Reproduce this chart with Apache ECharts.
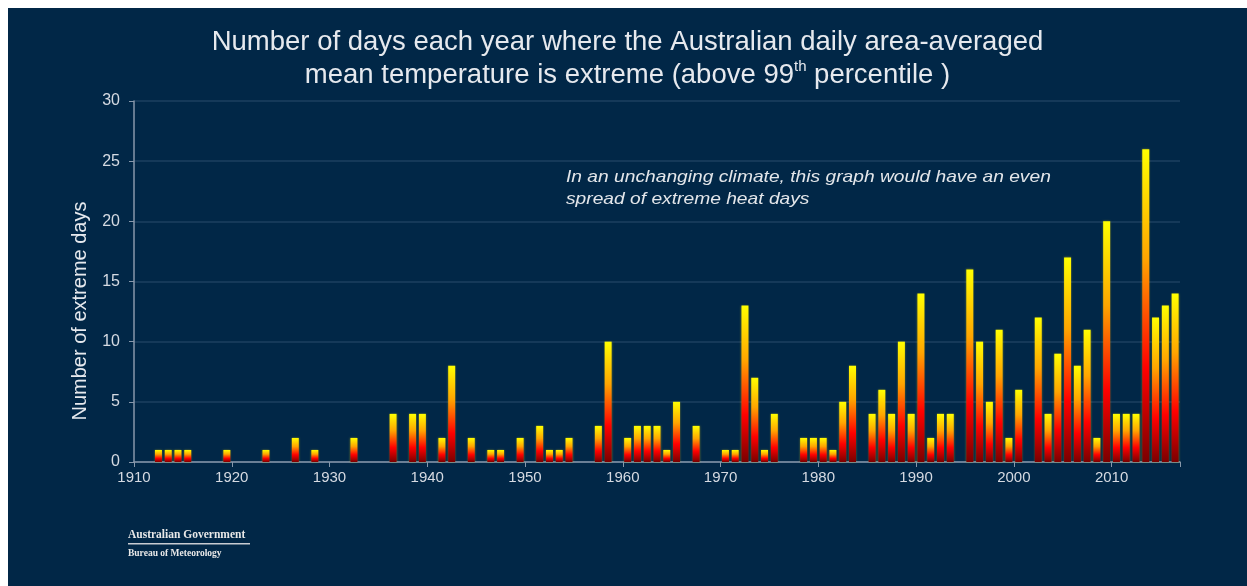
<!DOCTYPE html>
<html>
<head>
<meta charset="utf-8">
<script src="https://cdn.jsdelivr.net/npm/echarts@6/dist/echarts.min.js"></script>
<style>
html,body{margin:0;padding:0;background:#fff;width:1247px;height:586px;overflow:hidden;}
#chart{position:absolute;left:8px;top:8px;width:1239px;height:578px;background:#012747;}
</style>
</head>
<body>
<div id="chart"></div>
<script>
const years = [];
for (let y = 1910; y <= 2016; y++) years.push(String(y));
const extremeDays = [
  0,0,1,1,1,1,0,0,0,1,   // 1910-1919
  0,0,0,1,0,0,2,0,1,0,   // 1920-1929
  0,0,2,0,0,0,4,0,4,4,   // 1930-1939
  0,2,8,0,2,0,1,1,0,2,   // 1940-1949
  0,3,1,1,2,0,0,3,10,0,  // 1950-1959
  2,3,3,3,1,5,0,3,0,0,   // 1960-1969
  1,1,13,7,1,4,0,0,2,2,  // 1970-1979
  2,1,5,8,0,4,6,4,10,4,  // 1980-1989
  14,2,4,4,0,16,10,5,11,2, // 1990-1999
  6,0,12,4,9,17,8,11,2,20, // 2000-2009
  4,4,4,26,12,13,14        // 2010-2016
];
const yTicks = [0,5,10,15,20,25,30];
const titleLine1 = 'Number of days each year where the Australian daily area-averaged';
const titleLine2a = 'mean temperature is extreme (above 99';
const titleLine2b = 'th';
const titleLine2c = ' percentile )';
const yName = 'Number of extreme days';
const note = ['In an unchanging climate, this graph would have an even', 'spread of extreme heat days'];

const chart = echarts.init(document.getElementById('chart'));
const grad = new echarts.graphic.LinearGradient(0, 0, 0, 1, [
  {offset: 0, color: '#ffff00'},
  {offset: 0.35, color: '#ffa500'},
  {offset: 0.7, color: '#ff0000'},
  {offset: 1, color: '#7a0000'}
]);
chart.setOption({
  backgroundColor: '#012747',
  animation: false,
  title: {
    text: titleLine1 + '\n{a|' + titleLine2a + '}{s|' + titleLine2b + '}{a|' + titleLine2c + '}',
    left: 'center',
    top: 13,
    textStyle: {
      color: '#e6e9ee', fontSize: 27.5, fontWeight: 'normal', fontFamily: 'Liberation Sans', lineHeight: 33,
      rich: {
        a: {color: '#e6e9ee', fontSize: 27.5, fontFamily: 'Liberation Sans', lineHeight: 33},
        s: {color: '#e6e9ee', fontSize: 15, fontFamily: 'Liberation Sans', verticalAlign: 'top', lineHeight: 33, padding: [0,0,12,0]}
      }
    }
  },
  grid: {left: 126, right: 67, top: 93, bottom: 124, containLabel: false},
  xAxis: [
    {
      type: 'category', data: years, boundaryGap: true, show: false
    },
    {
      type: 'value', min: 1910, max: 2017, interval: 10, position: 'bottom',
      axisLine: {show: true, lineStyle: {color: '#8797aa', width: 1.5}},
      axisTick: {show: true, length: 5, inside: false, lineStyle: {color: '#8797aa'}},
      splitLine: {show: false},
      axisLabel: {color: '#d5dae2', fontSize: 15, fontFamily: 'Liberation Sans', margin: 8,
        formatter: v => (v % 10 === 0 ? String(v) : '')}
    }
  ],
  yAxis: {
    type: 'value', min: 0, max: 30, interval: 5,
    axisLine: {show: true, lineStyle: {color: '#8797aa', width: 1.5}},
    axisTick: {show: true, length: 5, lineStyle: {color: '#8797aa'}},
    axisLabel: {color: '#d5dae2', fontSize: 16, fontFamily: 'Liberation Sans', margin: 14,
      formatter: v => (yTicks.includes(v) ? String(v) : '')},
    splitLine: {show: true, lineStyle: {color: '#1d405f', width: 1.5}}
  },
  series: [{
    type: 'bar', xAxisIndex: 0, data: extremeDays, barWidth: 7,
    itemStyle: {color: grad, shadowColor: 'rgba(255,230,0,0.35)', shadowBlur: 2}
  }],
  graphic: [
    {type: 'text', x: 72, y: 303, rotation: Math.PI / 2,
      style: {text: yName, fill: '#e6e9ee', font: '20px "Liberation Sans"', textAlign: 'center', textVerticalAlign: 'middle'}},
    {type: 'text', x: 558, y: 158, scaleX: 1.13,
      style: {text: note.join('\n'), fill: '#e3e6ea', font: 'italic 17px "Liberation Sans"', lineHeight: 22}},
    {type: 'text', left: 120, top: 521, style: {text: 'Australian Government', fill: '#e8e8e8', font: 'bold 11.5px "Liberation Serif"'}},
    {type: 'rect', left: 120, top: 535, shape: {width: 122, height: 1.5}, style: {fill: '#c8ccd2'}},
    {type: 'text', left: 120, top: 541, style: {text: 'Bureau of Meteorology', fill: '#e8e8e8', font: 'bold 9.5px "Liberation Serif"'}}
  ]
});
</script>
</body>
</html>
